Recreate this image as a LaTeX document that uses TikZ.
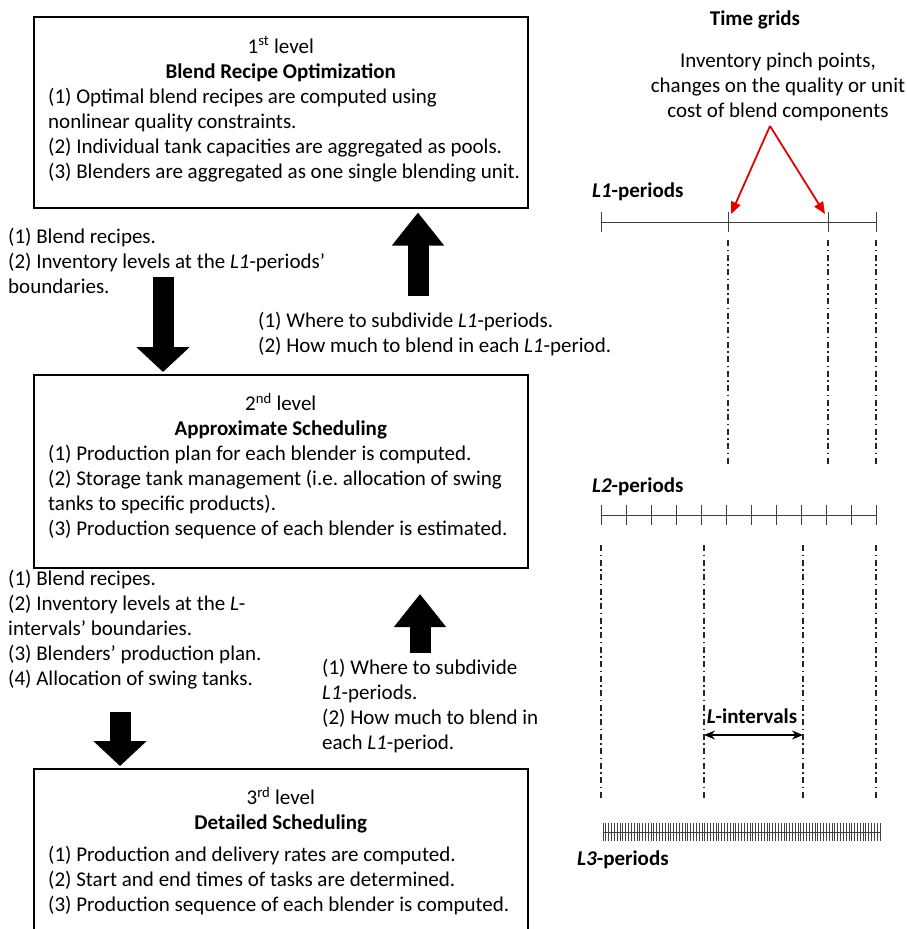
\documentclass[tikz,border=0pt]{standalone}
\usepackage{fontspec}
\setmainfont{Carlito}
\usetikzlibrary{arrows.meta,calc}
\frenchspacing
\begin{document}
\begin{tikzpicture}[x=1pt,y=-1pt,
  every node/.style={font=\fontsize{21}{25}\selectfont, inner sep=0pt},
  levelbox/.style={draw, line width=1.5pt, anchor=north west,
    minimum width=494pt},
  heading/.style={align=center, anchor=center},
  note/.style={anchor=west, align=left},
  upblock/.style={line width=21pt, -{Triangle[length=33pt, width=50pt]}},
  downblock/.style={line width=21pt, -{Triangle[length=25pt, width=52pt]}},
  grid/.style={line width=1pt, black!75},
  gridtick/.style={line width=1pt, black!75},
  divider/.style={line width=1.1pt, black!85, dash pattern=on 6pt off 3.5pt on 1.5pt off 3.5pt},
  pinch/.style={line width=1.8pt, red!90!black, -{Triangle[length=12pt, width=10pt]}},
  span/.style={line width=1.5pt, {Stealth[length=11pt,width=9pt]}-{Stealth[length=11pt,width=9pt]}}
]
\useasboundingbox (0,0) rectangle (907,929);
\clip (0,0) rectangle (907,929);

% ---------------- level boxes ----------------
\node[levelbox, minimum height=191pt] (b1) at (33,16) {};
\node[heading] (b1h) at ($(b1.north)+(0,43)$)
  {1\textsuperscript{st} level\\ \textbf{Blend Recipe Optimization}};
\node[note] (b1l) at ($(b1.north west)+(15,119)$)
  {(1) Optimal blend recipes are computed using\\
   nonlinear quality constraints.\\
   (2) Individual tank capacities are aggregated as pools.\\
   (3) Blenders are aggregated as one single blending unit.};

\node[levelbox, minimum height=193pt] (b2) at (33,374) {};
\node[heading] (b2h) at ($(b2.north)+(0,42)$)
  {2\textsuperscript{nd} level\\ \textbf{Approximate Scheduling}};
\node[note] (b2l) at ($(b2.north west)+(15,118)$)
  {(1) Production plan for each blender is computed.\\
   (2) Storage tank management (i.e. allocation of swing\\
   tanks to specific products).\\
   (3) Production sequence of each blender is estimated.};

\node[levelbox, minimum height=170pt] (b3) at (33,768) {};
\node[heading] (b3h) at ($(b3.north)+(0,42)$)
  {3\textsuperscript{rd} level\\ \textbf{Detailed Scheduling}};
\node[note] (b3l) at ($(b3.north west)+(15,112)$)
  {(1) Production and delivery rates are computed.\\
   (2) Start and end times of tasks are determined.\\
   (3) Production sequence of each blender is computed.};

% ---------------- information passed between levels ----------------
\node[note] (down1) at (8,261) {(1) Blend recipes.\\
  (2) Inventory levels at the \textit{L1}-periods'\\ boundaries.};
\node[note] (up1) at (258,334) {(1) Where to subdivide \textit{L1}-periods.\\
  (2) How much to blend in each \textit{L1}-period.};
\node[note] (down2) at (8,630) {(1) Blend recipes.\\
  (2) Inventory levels at the \textit{L}-\\
  intervals' boundaries.\\
  (3) Blenders' production plan.\\
  (4) Allocation of swing tanks.};
\node[note] (up2) at (322,706) {(1) Where to subdivide\\
  \textit{L1}-periods.\\
  (2) How much to blend in\\
  each \textit{L1}-period.};

\coordinate (a1s) at (418,296);  \coordinate (a1e) at ($(b1.south west)+(385,4)$);
\coordinate (a2s) at (163,277);  \coordinate (a2e) at ($(b2.north west)+(130,-2)$);
\coordinate (a3s) at (420,653);  \coordinate (a3e) at (420,594);
\coordinate (a4s) at (120,712);  \coordinate (a4e) at ($(b3.north west)+(87,-2)$);
\draw[upblock]   (a1s) -- (a1e);
\draw[downblock] (a2s) -- (a2e);
\draw[upblock]   (a3s) -- (a3e);
\draw[downblock] (a4s) -- (a4e);

% ---------------- time grids ----------------
\node (tg) at (755,20) {\textbf{Time grids}};
\node[align=center] (pinchtxt) at (778,87) {Inventory pinch points,\\
  changes on the quality or unit\\ cost of blend components};
\coordinate (apex) at (770,126);

% L1 grid
\node[anchor=west] (l1lab) at (592,192) {\textbf{\textit{L1}-periods}};
\coordinate (l1a) at (601,222); \coordinate (l1b) at (728,222);
\coordinate (l1c) at (828,222); \coordinate (l1d) at (876,222);
\draw[grid] (l1a) -- (l1d);
\foreach \c in {l1a,l1b,l1c,l1d}
  \draw[gridtick] ($(\c)+(0,-10)$) -- ($(\c)+(0,10)$);
\draw[pinch] (apex) -- ($(l1b)+(3,-8)$);
\draw[pinch] (apex) -- ($(l1c)+(-3,-8)$);
\foreach \c in {l1b,l1c,l1d}
  \draw[divider] ($(\c)+(0,18)$) -- ($(\c)+(0,243)$);

% L2 grid
\node[anchor=west] (l2lab) at (592,487) {\textbf{\textit{L2}-periods}};
\coordinate (l2a) at (601,515); \coordinate (l2b) at (876,515);
\draw[grid] (l2a) -- (l2b);
\foreach \i in {0,...,11}
  \draw[gridtick] ($(l2a)+(\i*25,-10)$) -- ($(l2a)+(\i*25,10)$);
\foreach \x in {601,704,803,876}
  \draw[divider] (\x,545) -- (\x,800);

% L-intervals
\node (lint) at (752,716) {\textbf{\textit{L}-intervals}};
\coordinate (li1) at (704,735); \coordinate (li2) at (803,735);
\draw[span] (li1) -- (li2);

% L3 grid
\coordinate (l3a) at (603,832); \coordinate (l3b) at (880,832);
\draw[grid] (l3a) -- (l3b);
\foreach \i in {0,...,98}
  \draw[gridtick, line width=0.8pt] ($(l3a)+(\i*2.8265,-9)$) -- ($(l3a)+(\i*2.8265,9)$);
\node[anchor=west] (l3lab) at (577,860) {\textbf{\textit{L3}-periods}};
\end{tikzpicture}
\end{document}
